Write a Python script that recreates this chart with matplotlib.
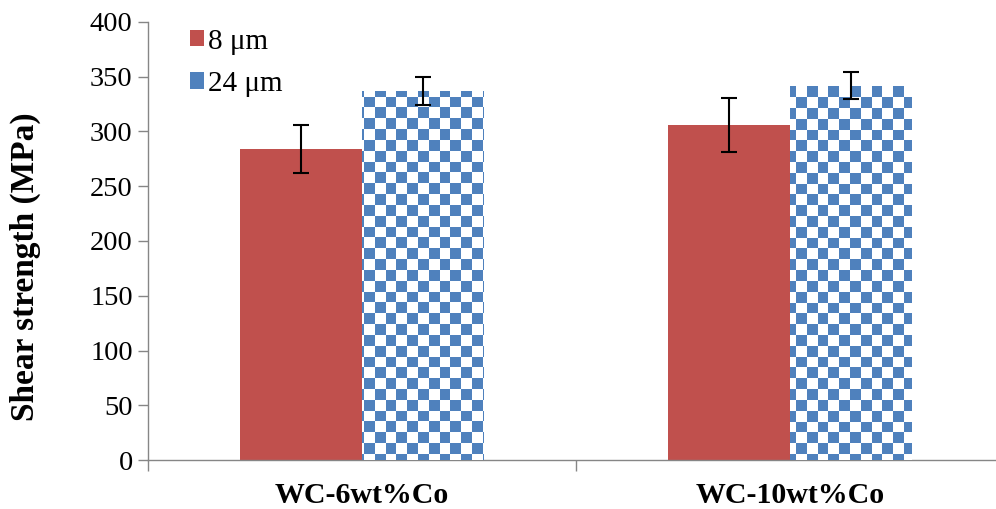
import numpy as np
import matplotlib
matplotlib.use("Agg")
import matplotlib.pyplot as plt
from matplotlib.colors import ListedColormap
from matplotlib.patches import Patch

categories = ["WC-6wt%Co", "WC-10wt%Co"]
series_names = ["8 μm", "24 μm"]
strength_8um = [284, 306]
err_8um = [22, 24.5]
strength_24um = [337, 342]
err_24um = [13, 12.5]
yticks = [0, 50, 100, 150, 200, 250, 300, 350, 400]

RED = "#C0504D"
BLUE = "#4F81BD"
SPINE = "#868686"

plt.rcParams["font.family"] = ["Liberation Serif", "DejaVu Serif"]

fig = plt.figure(figsize=(9.96, 5.09), dpi=100)
ax = fig.add_axes([148 / 996, (509 - 460) / 509, (996 - 148) / 996, (460 - 22) / 509])

x = np.arange(len(categories))
w = 0.285
xmax = 1.5 - 8 / 428

red_bars = ax.bar(x - w / 2, strength_8um, w, color=RED, edgecolor="none", zorder=2)
blue_bars = ax.bar(x + w / 2, strength_24um, w, color="white", edgecolor="none", zorder=2)

ax.errorbar(x - w / 2, strength_8um, yerr=err_8um, fmt="none", ecolor="black",
            elinewidth=1.5, capsize=6, capthick=1.5, zorder=4)
ax.errorbar(x + w / 2, strength_24um, yerr=err_24um, fmt="none", ecolor="black",
            elinewidth=1.5, capsize=6, capthick=1.5, zorder=4)

ax.set_ylim(0, 400)
ax.set_xlim(-0.5, xmax)
ax.set_yticks(yticks)
ax.set_xticks([-0.5, 0.5])
ax.set_xticklabels([])
ax.set_xticks(x, minor=True)
ax.set_xticklabels(categories, minor=True, fontsize=21.5, fontweight="bold")
ax.tick_params(axis="x", which="minor", length=0, pad=16)
ax.tick_params(axis="x", which="major", length=8, width=1, color=SPINE, direction="out")
ax.tick_params(axis="y", length=7, width=1, color=SPINE, labelsize=20.5, pad=4)

for s in ("top", "right"):
    ax.spines[s].set_visible(False)
for s in ("left", "bottom"):
    ax.spines[s].set_color(SPINE)
    ax.spines[s].set_linewidth(1)

ax.set_ylabel("Shear strength (MPa)", fontsize=24, fontweight="bold",
              va="center", ha="center")
ax.yaxis.set_label_coords((25 - 148) / 848, (460 - 267) / 438)

# checkerboard fill for the 24 µm bars, clipped to each bar
fig.canvas.draw()
bb = ax.get_window_extent()
cell = 10.8
nx = int(np.ceil(bb.width / cell))
ny = int(np.ceil(bb.height / cell))
board = (np.add.outer(np.arange(ny), np.arange(nx)) % 2).astype(float)
cmap = ListedColormap(["white", BLUE])
for bar in blue_bars:
    im = ax.imshow(board, cmap=cmap, interpolation="nearest", aspect="auto",
                   extent=(0, nx * cell / bb.width, 1 - ny * cell / bb.height, 1),
                   transform=ax.transAxes, zorder=3)
    im.set_clip_path(bar)
ax.set_xlim(-0.5, xmax)
ax.set_ylim(0, 400)

ax.legend(handles=[Patch(facecolor=RED), Patch(facecolor=BLUE)],
          labels=series_names, loc="upper left", bbox_to_anchor=(0.018, 1.045),
          frameon=False, fontsize=21, handlelength=0.5, handleheight=0.5,
          handletextpad=0.15, labelspacing=0.55)

fig.savefig("out.png", dpi=100)
